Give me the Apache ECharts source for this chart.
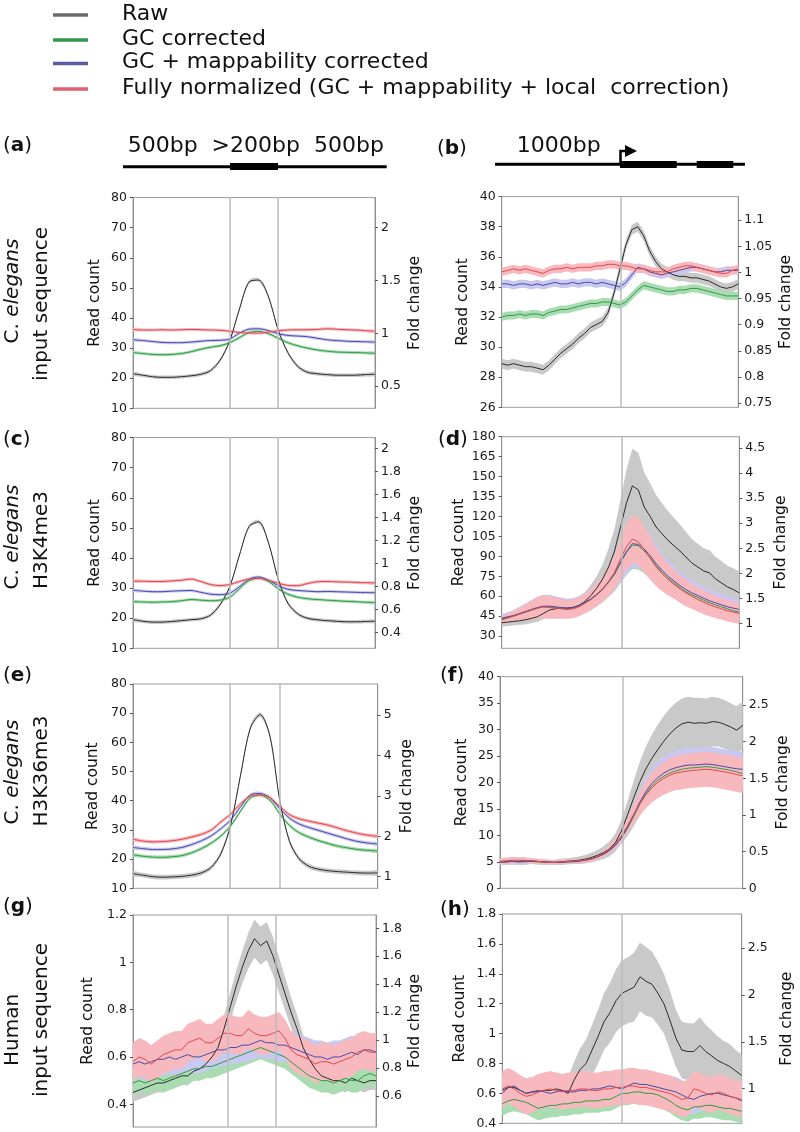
<!DOCTYPE html>
<html>
<head>
<meta charset="utf-8">
<script src="https://cdn.jsdelivr.net/npm/echarts@6/dist/echarts.min.js"></script>
<style>
html, body { margin: 0; padding: 0; background: #fff; }
#main { width: 800px; height: 1132px; }
</style>
</head>
<body>
<div id="main"></div>
<script>
// x position across the window, in % of the plotted region
const xs26 = [0,4,8,12,16,20,24,28,32,36,40,44,48,52,56,60,64,68,72,76,80,84,88,92,96,100];
const xs41 = [0,2.5,5,7.5,10,12.5,15,17.5,20,22.5,25,27.5,30,32.5,35,37.5,40,42.5,45,47.5,50,52.5,55,57.5,60,62.5,65,67.5,70,72.5,75,77.5,80,82.5,85,87.5,90,92.5,95,97.5,100];

// (a) C. elegans input, peaks
const aRaw  = [21.5,21.0,20.5,20.3,20.3,20.5,20.8,21.3,22.5,26,32.5,43,52,52.6,47,36,28.5,24,22,21.5,21.2,21.0,21.0,21.0,21.2,21.3];
const aGC   = [28.5,28.2,27.9,27.8,27.9,28.2,28.8,29.6,30.3,30.8,31.8,33.5,35.2,35.5,34.8,33.3,31.8,30.8,30,29.4,29.0,28.7,28.6,28.5,28.4,28.3];
const aMap  = [32.8,32.5,32.2,31.9,31.8,31.8,32,32.3,32.5,32.6,33,35,36.3,36.4,35.8,34.8,34.2,34,33.8,33.3,32.8,32.5,32.3,32.2,32.1,32];
const aFull = [36.2,36.0,36.0,36.1,36.0,36.1,36.2,36.1,36.0,35.9,35.6,35.2,35.0,35.0,35.3,35.8,36.0,36.1,36.1,36.2,36.4,36.3,36.1,36.0,35.8,35.6];
const aBand = [0.6,0.5,0.5,0.5];

// (b) C. elegans input, TSS
const bRaw  = [28.9,28.8,28.9,28.8,28.7,28.7,28.6,28.5,28.8,29.2,29.6,29.9,30.2,30.6,30.9,31.3,31.5,31.7,32.3,33.6,35.2,36.8,37.8,38.0,37.4,36.4,35.7,35.2,35.0,34.8,34.7,34.7,34.6,34.6,34.5,34.4,34.2,34.0,33.9,34.0,34.2];
const bGC   = [32.0,32.1,32.1,32.2,32.1,32.2,32.2,32.1,32.3,32.4,32.5,32.5,32.6,32.7,32.8,32.9,32.9,33.0,33.0,32.9,32.8,33.0,33.4,33.8,34.1,34.0,33.9,33.8,33.7,33.7,33.8,33.8,33.9,33.9,33.8,33.7,33.6,33.5,33.4,33.4,33.4];
const bMap  = [34.2,34.2,34.1,34.2,34.2,34.1,34.2,34.1,34.2,34.3,34.2,34.2,34.3,34.2,34.3,34.3,34.2,34.3,34.2,34.1,34.0,34.3,34.8,35.3,35.2,35.0,34.9,34.8,34.9,35.0,35.1,35.2,35.3,35.3,35.2,35.1,35.0,35.0,35.1,35.1,35.1];
const bFull = [35.0,35.1,35.2,35.1,35.2,35.1,35.0,34.9,35.1,35.2,35.2,35.3,35.2,35.3,35.3,35.3,35.4,35.4,35.5,35.5,35.4,35.4,35.3,35.2,35.2,35.1,35.0,35.0,35.0,35.2,35.3,35.4,35.4,35.3,35.2,35.1,35.0,34.9,34.9,35.1,35.2];
const bBand = [0.33,0.27,0.27,0.27];

// (c) H3K4me3, peaks
const cRaw  = [19.5,19.0,18.7,18.7,18.9,19.2,19.5,19.8,21,24.5,30.5,41,50.5,52,45,33,25,21.5,20,19.5,19.2,19,18.8,18.8,18.9,19];
const cGC   = [25.5,25.4,25.3,25.4,25.5,25.8,26.2,26,25.8,26,27,29.8,32.5,33.3,32.2,29.8,28,27,26.5,26.2,26,25.8,25.6,25.5,25.3,25.2];
const cMap  = [29.3,29.0,28.8,28.8,29,29.1,29.2,28.6,28,27.8,28.3,30.5,33,33.7,32.6,30.8,29.6,29.2,29.0,28.8,28.9,28.8,28.7,28.6,28.5,28.5];
const cFull = [32.3,32.3,32.2,32.2,32.4,32.6,33,32.2,31.2,30.8,31.2,32.2,33,33.2,32.6,31.6,30.9,30.8,31.5,32.1,32.2,32.1,32,31.9,31.8,31.7];
const cBand = [0.6,0.5,0.5,0.5];

// (d) H3K4me3, TSS
const dRaw  = [40,40.5,41,41.5,42.3,43.3,44.5,47,49.5,50.5,51,51,51.5,53,56,60.5,66,73,82,94,112,130,143,140,127,120,112,107,102,98,94,89.5,85,82,79,77.5,73,70,67,65,62.5];
const dGC   = [43,44,45,46.5,48,49.5,51,52,52,51.5,51,50.5,51,52.5,55,57.5,61,65,70.5,76.5,85,93,98.5,98,94,89,83,78,73.5,70,66.5,63.5,61,59,57,55,53.5,52,50.5,49,48];
const dMap  = [43.5,44.5,45.5,47,48.5,50,51.5,52.5,52.5,52,51.5,51,51.5,53,55.5,58,61.5,65.5,71,77,85.5,93.5,99.5,99,95.5,90.5,84.5,79.5,75,71.5,68,65,62.5,60.5,58.5,56.5,55,53.5,52,51,50];
const dFull = [42,43.5,45,46.5,48,49.5,51,52,51.5,51,50.5,50,50.5,52,54.5,57.5,61,65.5,71,78,88,97,103,101,95,88.5,82,77,72.5,69,65.5,62.5,60,57.5,55.5,53.5,52,50.5,49,48,47];
const dRawBand = [3,3,3,3,3.5,3.5,4,4,4.5,4.5,5,5,5.5,6,7,8,9,11,14,17,21,25,28,28,26,25,24,23,22,21,20,19,18,17.5,17,17,16.5,16.5,16,16,16];
const dCorBand = [3,3.5,4,5,6,7,8,8.5,8.5,8,7.5,7,7,7,7.5,8,8.5,9.5,11,13,15,17,18,18,17,16,14.5,13,12,11,10.5,10,9.5,9,9,8.5,8.5,8,8,8,8];

// (e) H3K36me3, peaks
const eRaw  = [15,14.5,14,13.8,13.9,14.1,14.5,15.3,17.2,22,32,49,65,69.5,62,40,26,20,17.5,16.5,16,15.7,15.5,15.3,15.2,15.3];
const eGC   = [21.5,21,20.7,20.6,20.8,21.2,22.2,23.6,25.5,28,31.5,36.5,41,42,40.2,35.5,31.5,29,27.5,26.3,25.3,24.4,23.8,23.3,23,22.8];
const eMap  = [24,23.6,23.3,23.3,23.5,24,25,26.3,28,30.5,33.5,38,42,42.5,41,37.3,34,32,30.8,29.8,28.8,27.8,26.8,26,25.5,25.2];
const eFull = [26.8,26.2,25.9,26,26.3,26.8,27.6,28.5,30,32.8,35.5,39,41.6,42,41,38,35.2,33.8,33,32.3,31.6,30.6,29.6,28.8,28.2,27.8];
const eBand = [0.8,0.6,0.6,0.6];

// (f) H3K36me3, TSS
const fRaw  = [5.0,5.0,5.1,5.1,5.2,5.2,5.1,5.0,4.9,4.9,5.0,5.1,5.2,5.3,5.5,5.8,6.2,6.7,7.4,8.6,10.8,13.8,17,20,22.5,24.5,26.2,27.8,29.2,30.3,31.1,31.4,31.2,31.3,31.2,31.5,31.4,31.0,30.5,29.9,30.8];
const fGC   = [5.0,5.1,5.1,5.0,5.1,5.1,5.0,5.0,4.9,4.9,4.9,5.0,5.1,5.2,5.3,5.6,5.9,6.4,7.1,8.1,9.5,11.3,13.5,15.8,17.8,19.3,20.4,21.2,21.8,22.2,22.5,22.7,22.8,22.9,23.0,22.9,22.7,22.5,22.3,22.0,21.7];
const fMap  = [5.0,5.0,5.1,5.0,5.0,5.1,5.1,5.0,5.0,4.9,4.9,5.0,5.0,5.1,5.3,5.5,5.9,6.4,7.1,8.1,9.6,11.5,13.8,16.2,18.2,19.8,20.9,21.8,22.4,22.8,23.1,23.3,23.3,23.4,23.5,23.4,23.2,23.0,22.8,22.6,22.5];
const fFull = [5.1,5.2,5.3,5.3,5.3,5.2,5.1,5.0,4.9,4.9,5.0,5.0,5.1,5.2,5.3,5.5,5.9,6.5,7.3,8.4,9.9,11.8,13.9,15.9,17.6,19.0,20.0,20.8,21.4,21.8,22.0,22.2,22.3,22.4,22.5,22.4,22.2,22.0,21.8,21.5,21.3];
const fRawBand = [0.5,0.5,0.5,0.5,0.5,0.5,0.5,0.5,0.5,0.5,0.6,0.6,0.6,0.7,0.8,0.9,1.0,1.2,1.4,1.7,2.1,2.6,3.2,3.8,4.2,4.5,4.7,4.8,4.8,4.8,4.8,4.8,4.8,4.7,4.7,4.7,4.6,4.6,4.5,4.5,4.5];
const fCorBand = [0.6,0.6,0.6,0.6,0.6,0.5,0.5,0.5,0.4,0.4,0.4,0.4,0.4,0.4,0.4,0.5,0.5,0.6,0.7,0.9,1.1,1.4,1.8,2.2,2.5,2.8,3.0,3.1,3.2,3.2,3.3,3.3,3.3,3.3,3.3,3.3,3.3,3.3,3.3,3.3,3.3];

// (g) human input, peaks
const gRaw  = [0.45,0.46,0.47,0.48,0.49,0.49,0.50,0.51,0.52,0.52,0.54,0.55,0.57,0.60,0.64,0.72,0.81,0.90,0.98,1.05,1.10,1.07,1.09,1.03,0.95,0.87,0.79,0.72,0.64,0.59,0.55,0.52,0.51,0.50,0.50,0.49,0.51,0.50,0.49,0.50,0.50];
const gGC   = [0.49,0.50,0.49,0.50,0.51,0.50,0.51,0.52,0.53,0.54,0.55,0.55,0.56,0.56,0.57,0.58,0.59,0.60,0.61,0.62,0.63,0.64,0.63,0.62,0.61,0.60,0.58,0.56,0.54,0.52,0.51,0.50,0.50,0.49,0.50,0.51,0.50,0.50,0.52,0.53,0.52];
const gMap  = [0.57,0.58,0.57,0.58,0.59,0.59,0.60,0.59,0.60,0.61,0.60,0.60,0.61,0.62,0.63,0.63,0.64,0.64,0.65,0.65,0.66,0.67,0.66,0.66,0.65,0.65,0.64,0.63,0.62,0.61,0.60,0.60,0.59,0.60,0.60,0.61,0.62,0.61,0.63,0.63,0.62];
const gFull = [0.58,0.60,0.59,0.57,0.59,0.61,0.62,0.63,0.63,0.66,0.67,0.68,0.66,0.66,0.68,0.70,0.70,0.69,0.69,0.72,0.70,0.69,0.69,0.70,0.71,0.68,0.63,0.61,0.60,0.59,0.57,0.58,0.58,0.57,0.58,0.59,0.60,0.62,0.63,0.62,0.62];
const gRawBand = [0.04,0.04,0.04,0.04,0.04,0.04,0.04,0.04,0.04,0.04,0.04,0.04,0.04,0.045,0.05,0.055,0.06,0.065,0.07,0.075,0.08,0.08,0.08,0.08,0.075,0.07,0.065,0.06,0.055,0.05,0.045,0.04,0.04,0.04,0.04,0.04,0.04,0.04,0.04,0.04,0.04];
const gCorBand = [0.05,0.07,0.08];

// (h) human input, TSS
const hRaw  = [0.62,0.64,0.64,0.62,0.60,0.61,0.61,0.62,0.62,0.63,0.62,0.60,0.69,0.76,0.80,0.89,0.98,1.08,1.14,1.22,1.27,1.29,1.31,1.38,1.35,1.33,1.27,1.20,1.09,0.97,0.89,0.88,0.88,0.92,0.88,0.85,0.82,0.80,0.78,0.75,0.72];
const hGC   = [0.53,0.55,0.56,0.55,0.54,0.52,0.50,0.51,0.52,0.52,0.53,0.53,0.54,0.54,0.55,0.55,0.55,0.56,0.56,0.58,0.60,0.60,0.61,0.61,0.60,0.60,0.59,0.57,0.55,0.52,0.50,0.49,0.51,0.51,0.52,0.52,0.51,0.50,0.50,0.49,0.48];
const hMap  = [0.60,0.64,0.65,0.62,0.60,0.61,0.62,0.61,0.60,0.61,0.62,0.61,0.61,0.62,0.62,0.63,0.63,0.64,0.65,0.64,0.63,0.65,0.67,0.66,0.66,0.65,0.64,0.63,0.62,0.61,0.59,0.57,0.56,0.58,0.59,0.60,0.60,0.59,0.58,0.57,0.55];
const hFull = [0.63,0.65,0.63,0.60,0.58,0.59,0.61,0.62,0.63,0.62,0.61,0.62,0.62,0.63,0.63,0.62,0.62,0.63,0.63,0.64,0.64,0.65,0.65,0.64,0.64,0.63,0.62,0.61,0.60,0.58,0.56,0.57,0.63,0.62,0.60,0.59,0.61,0.60,0.58,0.57,0.56];
const hRawBand = [0.10,0.10,0.10,0.10,0.10,0.10,0.10,0.10,0.10,0.10,0.10,0.11,0.12,0.14,0.16,0.17,0.18,0.19,0.20,0.21,0.22,0.22,0.23,0.23,0.23,0.22,0.21,0.20,0.20,0.19,0.19,0.19,0.19,0.19,0.18,0.17,0.16,0.15,0.15,0.14,0.14];
const hCorBand = [0.08,0.10,0.12];

// tick labels
const aLeftTicks = [10,20,30,40,50,60,70,80],  aRightTicks = [0.5,1,1.5,2];
const bLeftTicks = [26,28,30,32,34,36,38,40],  bRightTicks = [0.75,0.8,0.85,0.9,0.95,1,1.05,1.1];
const cLeftTicks = [10,20,30,40,50,60,70,80],  cRightTicks = [0.4,0.6,0.8,1,1.2,1.4,1.6,1.8,2];
const dLeftTicks = [30,45,60,75,90,105,120,135,150,165,180], dRightTicks = [1,1.5,2,2.5,3,3.5,4,4.5];
const eLeftTicks = [10,20,30,40,50,60,70,80],  eRightTicks = [1,2,3,4,5];
const fLeftTicks = [0,5,10,15,20,25,30,35,40], fRightTicks = [0,0.5,1,1.5,2,2.5];
const gLeftTicks = [0.4,0.6,0.8,1,1.2],        gRightTicks = [0.6,0.8,1,1.2,1.4,1.6,1.8];
const hLeftTicks = [0.4,0.6,0.8,1,1.2,1.4,1.6,1.8], hRightTicks = [1,1.5,2,2.5];

const names = ['Raw', 'GC corrected', 'GC + mappability corrected', 'Fully normalized (GC + mappability + local  correction)'];

const FONT = 'DejaVu Sans';
const lineColors = ['#2a2a2a', '#2f9a48', '#4a4aa8', '#e2474f'];
const bandColors = ['#c9c9c9', '#aadcb2', '#c8c8f0', '#f7b9bd'];
const legendColors = ['#6a6a6a', '#2f9a4c', '#5b5ba3', '#e0616e'];

// layout of the 8 panels
const panels = [
  {xs: xs26, lines: [aRaw, aGC, aMap, aFull], bands: aBand, smooth: 0.3,
   left: 133, top: 197.6, width: 242, height: 210.7, yl: [10, 80], yr: [0.29, 2.285], lt: aLeftTicks, rt: aRightTicks, vl: [40, 60], gapL: 30, gapR: 32},
  {xs: xs41, lines: [bRaw, bGC, bMap, bFull], bands: bBand, smooth: false,
   left: 501.7, top: 196.6, width: 236.6, height: 210.7, yl: [26, 40], yr: [0.742, 1.145], lt: bLeftTicks, rt: bRightTicks, vl: [50.3], gapL: 31, gapR: 40},
  {xs: xs26, lines: [cRaw, cGC, cMap, cFull], bands: cBand, smooth: 0.3,
   left: 133, top: 437.6, width: 242, height: 210.7, yl: [10, 80], yr: [0.265, 2.093], lt: cLeftTicks, rt: cRightTicks, vl: [40, 60], gapL: 30, gapR: 32},
  {xs: xs41, lines: [dRaw, dGC, dMap, dFull], bands: [dRawBand, dCorBand, dCorBand, dCorBand], smooth: false,
   left: 501.7, top: 436.7, width: 237.6, height: 211.6, yl: [20.8, 180], yr: [0.5, 4.73], lt: dLeftTicks, rt: dRightTicks, vl: [50.5], gapL: 35, gapR: 34},
  {xs: xs26, lines: [eRaw, eGC, eMap, eFull], bands: eBand, smooth: 0.3,
   left: 133, top: 684, width: 244.7, height: 204.3, yl: [10, 80], yr: [0.713, 5.767], lt: eLeftTicks, rt: eRightTicks, vl: [39.6, 59.8], gapL: 32, gapR: 21},
  {xs: xs41, lines: [fRaw, fGC, fMap, fFull], bands: [fRawBand, fCorBand, fCorBand, fCorBand], smooth: false,
   left: 500, top: 676.7, width: 242.7, height: 211.6, yl: [0, 40], yr: [0, 2.886], lt: fLeftTicks, rt: fRightTicks, vl: [50.4], gapL: 30, gapR: 32},
  {xs: xs41, lines: [gRaw, gGC, gMap, gFull], bands: [gRawBand, gCorBand[0], gCorBand[1], gCorBand[2]], smooth: false,
   left: 133, top: 915, width: 243, height: 212, yl: [0.304, 1.2], yr: [0.378, 1.895], lt: gLeftTicks, rt: gRightTicks, vl: [38.8, 58.7], gapL: 37, gapR: 31},
  {xs: xs41, lines: [hRaw, hGC, hMap, hFull], bands: [hRawBand, hCorBand[0], hCorBand[1], hCorBand[2]], smooth: false,
   left: 502.3, top: 914, width: 239.4, height: 209.3, yl: [0.4, 1.8], yr: [0.631, 2.865], lt: hLeftTicks, rt: hRightTicks, vl: [50.1], gapL: 34, gapR: 37}
];

function bw(b, i) {
  return Array.isArray(b) ? b[i] : b;
}

function yAxis(g, pos, range, ticks, name, gap) {
  return {
    gridIndex: g, type: 'value', position: pos, min: range[0], max: range[1],
    name: name, nameLocation: 'middle', nameGap: gap, nameRotate: 90,
    nameTextStyle: {fontFamily: FONT, fontSize: 15.5, color: '#111'},
    axisLine: {show: true, lineStyle: {color: '#8f8f8f', width: 1}},
    axisTick: {show: true, length: 3, customValues: ticks, lineStyle: {color: '#555'}},
    axisLabel: {customValues: ticks, fontFamily: FONT, fontSize: 12.5, color: '#1a1a1a', margin: 6},
    splitLine: {show: false}
  };
}

// one shaded band = one polygon, upper edge then lower edge back
function bandSeries(g, xs, vals, band, color, smooth) {
  const pts = vals.map((v, i) => [xs[i], v - bw(band, i), v + bw(band, i)]);
  return {
    type: 'custom', xAxisIndex: g, yAxisIndex: 2 * g, silent: true, z: 1,
    data: pts, encode: {x: 0, y: [1, 2]},
    renderItem: function (params, api) {
      if (params.dataIndex !== 0) return null;
      const top = pts.map(p => api.coord([p[0], p[2]]));
      const bot = pts.map(p => api.coord([p[0], p[1]])).reverse();
      const x0 = top[0][0], x1 = top[top.length - 1][0];
      return {
        type: 'polygon',
        shape: {points: top.concat(bot), smooth: smooth || 0,
                smoothConstraint: [[x0, -10000], [x1, 10000]]},
        style: {fill: color}
      };
    }
  };
}

const grids = [], xAxes = [], yAxes = [], series = [];
panels.forEach((p, g) => {
  grids.push({left: p.left, top: p.top, width: p.width, height: p.height,
    show: true, borderColor: '#9a9a9a', borderWidth: 1});
  xAxes.push({gridIndex: g, type: 'value', min: 0, max: 100, show: false});
  yAxes.push(yAxis(g, 'left', p.yl, p.lt, 'Read count', p.gapL));
  yAxes.push(yAxis(g, 'right', p.yr, p.rt, 'Fold change', p.gapR));

  p.lines.forEach((vals, k) => {
    series.push(bandSeries(g, p.xs, vals, p.bands[k], bandColors[k], p.smooth));
  });

  p.lines.forEach((vals, k) => {
    const s = {
      type: 'line', name: names[k], xAxisIndex: g, yAxisIndex: 2 * g, symbol: 'none',
      smooth: p.smooth, silent: true, z: 3,
      lineStyle: {color: lineColors[k], width: 1},
      data: vals.map((v, i) => [p.xs[i], v])
    };
    if (k === 0) {
      s.markLine = {
        silent: true, symbol: ['none', 'none'], label: {show: false},
        lineStyle: {color: '#bdbdbd', width: 1.5, type: 'solid'},
        data: p.vl.map(v => ({xAxis: v}))
      };
    }
    series.push(s);
  });
});

// texts and drawings around the plots
const graphic = [];
const legY = [15, 40, 63.5, 89];
names.forEach((n, i) => {
  graphic.push({type: 'line', shape: {x1: 53, y1: legY[i], x2: 88, y2: legY[i]},
    style: {stroke: legendColors[i], lineWidth: 3.5}});
  graphic.push({type: 'text', x: 122, y: legY[i] - 1,
    style: {text: n, fontFamily: FONT, fontSize: 22, fill: '#111', verticalAlign: 'middle'}});
});

const letters = [['a', 3, 146], ['b', 437, 149], ['c', 3, 440], ['d', 438, 440],
                 ['e', 3, 676], ['f', 440, 676], ['g', 3, 907], ['h', 440, 910]];
letters.forEach(l => {
  graphic.push({type: 'text', x: l[1], y: l[2],
    style: {text: '{p|(}{b|' + l[0] + '}{p|)}', verticalAlign: 'middle',
      rich: {p: {fontFamily: FONT, fontSize: 20, fill: '#111'},
             b: {fontFamily: FONT, fontSize: 20, fontWeight: 'bold', fill: '#111'}}}});
});

const rowLabels = [
  ['{n|C. }{i|elegans}', 'input sequence', 291, 304],
  ['{n|C. }{i|elegans}', 'H3K4me3', 537, 540],
  ['{n|C. }{i|elegans}', 'H3K36me3', 772, 771],
  ['{n|Human}', 'input sequence', 1030, 1020]
];
rowLabels.forEach(r => {
  graphic.push({type: 'text', x: 13, y: r[2], rotation: Math.PI / 2,
    style: {text: r[0], align: 'center', verticalAlign: 'middle',
      rich: {n: {fontFamily: FONT, fontSize: 20, fill: '#111'},
             i: {fontFamily: FONT, fontSize: 20, fontStyle: 'italic', fill: '#111'}}}});
  graphic.push({type: 'text', x: 42, y: r[3], rotation: Math.PI / 2,
    style: {text: r[1], align: 'center', verticalAlign: 'middle',
      fontFamily: FONT, fontSize: 20, fill: '#111'}});
});

// peak schematic (a)
graphic.push({type: 'text', x: 127.7, y: 146,
  style: {text: '500bp  >200bp  500bp', fontFamily: FONT, fontSize: 22, fill: '#111', verticalAlign: 'middle'}});
graphic.push({type: 'line', shape: {x1: 123, y1: 166.7, x2: 386.7, y2: 166.7}, style: {stroke: '#000', lineWidth: 3}});
graphic.push({type: 'rect', shape: {x: 230, y: 163, width: 48, height: 7}, style: {fill: '#000'}});

// gene schematic (b)
graphic.push({type: 'text', x: 516.7, y: 146.7,
  style: {text: '1000bp', fontFamily: FONT, fontSize: 22, fill: '#111', verticalAlign: 'middle'}});
graphic.push({type: 'line', shape: {x1: 495, y1: 164.3, x2: 745, y2: 164.3}, style: {stroke: '#000', lineWidth: 3}});
graphic.push({type: 'rect', shape: {x: 620, y: 161, width: 56.7, height: 7}, style: {fill: '#000'}});
graphic.push({type: 'rect', shape: {x: 696.7, y: 161, width: 36.6, height: 7}, style: {fill: '#000'}});
graphic.push({type: 'polyline', shape: {points: [[620.5, 164], [620.5, 151], [627, 151]]},
  style: {stroke: '#000', lineWidth: 2.5, fill: null}});
graphic.push({type: 'polygon', shape: {points: [[625, 145], [637, 151], [625, 157]]}, style: {fill: '#000'}});

const chart = echarts.init(document.getElementById('main'));
chart.setOption({
  animation: false,
  backgroundColor: '#fff',
  grid: grids,
  xAxis: xAxes,
  yAxis: yAxes,
  series: series,
  graphic: graphic
});
</script>
</body>
</html>
